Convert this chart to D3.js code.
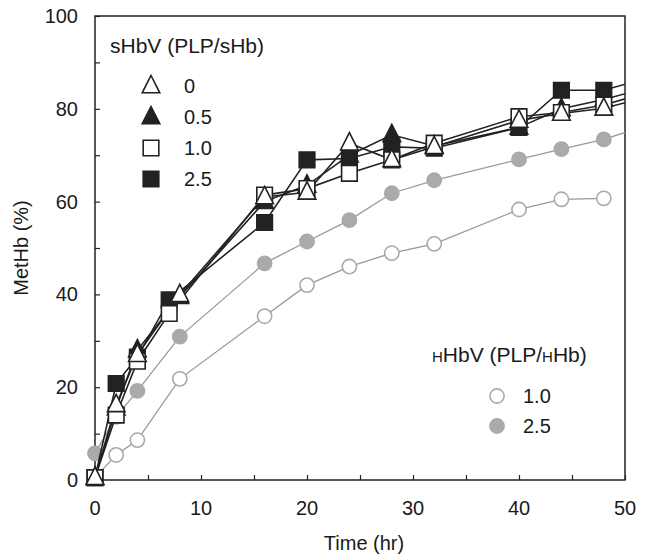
<!DOCTYPE html>
<html>
<head>
<meta charset="utf-8">
<script src="https://cdn.jsdelivr.net/npm/d3@7"></script>
<style>
  body { margin: 0; background: #fff; }
  svg text { font-family: "Liberation Sans", Arial, sans-serif; fill: #1a1a1a; }
</style>
</head>
<body>
<svg id="chart" width="647" height="554"></svg>
<script>
// sampling times (hr); square series were taken at ~7 hr instead of 8
const timeTri = [0, 2, 4, 8, 16, 20, 24, 28, 32, 40, 44, 48, 52];
const timeSq = [0, 2, 4, 7, 16, 20, 24, 28, 32, 40, 44, 48, 52];
const timeH = [0, 2, 4, 8, 16, 20, 24, 28, 32, 40, 44, 48];
const timeH25 = [0, 2, 4, 8, 16, 20, 24, 28, 32, 40, 44, 48, 52];

// MetHb (%) — sHbV, PLP/sHb ratios
const sHbV0 = [0.5, 16.2, 27, 39.9, 61, 62, 72.6, 69, 71.8, 77.5, 79, 80.1, 82.5];
const sHbV05 = [0.5, 15.5, 28, 39.5, 60, 63.5, 70, 74.4, 72, 76, 80, 82, 84.5];
const sHbV10 = [0.5, 14, 25.6, 35.9, 61.4, 62.8, 66.1, 69, 72.6, 78.3, 79.2, 80.8, 83.5];
const sHbV25 = [0.5, 20.8, 26.5, 38.8, 55.5, 69, 69.3, 71.8, 71.5, 76, 84, 84, 86.6];

// MetHb (%) — hHbV, PLP/hHb ratios
const hHbV10 = [0.5, 5.4, 8.6, 21.8, 35.3, 42, 46, 48.9, 50.9, 58.3, 60.5, 60.7];
const hHbV25 = [5.75, 13.6, 19.2, 30.9, 46.7, 51.4, 56, 61.8, 64.6, 69.1, 71.3, 73.4, 76.4];

const xTicks = [0, 10, 20, 30, 40, 50];
const yTicks = [0, 20, 40, 60, 80, 100];

const svg = d3.select("#chart");
const margin = { left: 95, right: 22, top: 16, bottom: 74 };
const W = 647, H = 554;
const fs = 20;

const x = d3.scaleLinear().domain([0, 50]).range([margin.left, W - margin.right]);
const y = d3.scaleLinear().domain([0, 100]).range([H - margin.bottom, margin.top]);

svg.append("clipPath").attr("id", "plotclip")
  .append("rect")
  .attr("x", x(0)).attr("y", y(100))
  .attr("width", x(50) - x(0)).attr("height", y(0) - y(100));

// axes: inward ticks, no domain path (frame drawn separately)
const xAxis = svg.append("g").attr("transform", `translate(0,${y(0)})`)
  .call(d3.axisBottom(x).tickValues(d3.range(0, 51, 5)).tickSizeInner(-5).tickSizeOuter(0).tickFormat(""));
const yAxis = svg.append("g").attr("transform", `translate(${x(0)},0)`)
  .call(d3.axisLeft(y).tickValues(d3.range(0, 101, 10)).tickSizeInner(-5).tickSizeOuter(0).tickFormat(""));
[xAxis, yAxis].forEach(g => {
  g.select(".domain").remove();
  g.selectAll("line").attr("stroke", "#222").attr("stroke-width", 1.2);
});

svg.selectAll(".xlab").data(xTicks).enter().append("text")
  .attr("x", d => x(d)).attr("y", y(0) + 35)
  .attr("text-anchor", "middle").attr("font-size", fs)
  .text(d => d);
svg.selectAll(".ylab").data(yTicks).enter().append("text")
  .attr("x", x(0) - 17).attr("y", d => y(d) + 7)
  .attr("text-anchor", "end").attr("font-size", fs)
  .text(d => d);

svg.append("text").attr("x", (x(0) + x(50)) / 2 + 4).attr("y", 550)
  .attr("text-anchor", "middle").attr("font-size", fs).text("Time (hr)");
svg.append("text")
  .attr("transform", `translate(28,${(y(0) + y(100)) / 2}) rotate(-90)`)
  .attr("text-anchor", "middle").attr("font-size", fs).text("MetHb (%)");

// frame
svg.append("rect")
  .attr("x", x(0)).attr("y", y(100))
  .attr("width", x(50) - x(0)).attr("height", y(0) - y(100))
  .attr("fill", "none").attr("stroke", "#222").attr("stroke-width", 1.5);

const line = d3.line().x(d => x(d.t)).y(d => y(d.v));
const pts = (ts, vs) => vs.map((v, i) => ({ t: ts[i], v }));

const hSeries = [
  { data: pts(timeH, hHbV10), shape: "circle", fill: "#fff", stroke: "#aaa" },
  { data: pts(timeH25, hHbV25), shape: "circle", fill: "#aaa", stroke: "#aaa" }
];
const sSeries = [
  { data: pts(timeSq, sHbV25), shape: "square", fill: "#222", stroke: "#222" },
  { data: pts(timeTri, sHbV05), shape: "triangle", fill: "#222", stroke: "#222" },
  { data: pts(timeSq, sHbV10), shape: "square", fill: "#fff", stroke: "#222" },
  { data: pts(timeTri, sHbV0), shape: "triangle", fill: "#fff", stroke: "#222" }
];

const symbolPath = {
  circle: d3.symbol(d3.symbolCircle, 160)(),
  square: "M-7.8,-7.8H7.8V7.8H-7.8Z",
  triangle: "M0,-10.5L8.8,6.8H-8.8Z"
};

function drawMarkers(g, s) {
  g.selectAll(null).data(s.data.filter(d => d.t <= 50)).enter().append("path")
    .attr("d", symbolPath[s.shape])
    .attr("transform", d => `translate(${x(d.t)},${y(d.v)})`)
    .attr("fill", s.fill).attr("stroke", s.stroke)
    .attr("stroke-width", 1.6);
}

const hG = svg.append("g");
hSeries.forEach(s => {
  hG.append("path").datum(s.data).attr("d", line)
    .attr("clip-path", "url(#plotclip)")
    .attr("fill", "none").attr("stroke", "#999").attr("stroke-width", 1.3);
});
hSeries.forEach(s => drawMarkers(hG, s));

const sG = svg.append("g");
sSeries.forEach(s => {
  sG.append("path").datum(s.data).attr("d", line)
    .attr("clip-path", "url(#plotclip)")
    .attr("fill", "none").attr("stroke", "#222").attr("stroke-width", 1.6);
});
sSeries.forEach(s => drawMarkers(sG, s));

// legend: sHbV
const sLegend = [
  { label: "0", shape: "triangle", fill: "#fff" },
  { label: "0.5", shape: "triangle", fill: "#222" },
  { label: "1.0", shape: "square", fill: "#fff" },
  { label: "2.5", shape: "square", fill: "#222" }
];
svg.append("text").attr("x", 110).attr("y", 53).attr("font-size", 21).text("sHbV (PLP/sHb)");
const sl = svg.selectAll(".sleg").data(sLegend).enter().append("g")
  .attr("transform", (d, i) => `translate(151,${86 + i * 31})`);
sl.append("path").attr("d", d => symbolPath[d.shape])
  .attr("fill", d => d.fill).attr("stroke", "#222").attr("stroke-width", 1.6);
sl.append("text").attr("x", 33).attr("y", 7).attr("font-size", fs).text(d => d.label);

// legend: hHbV (small-capital h)
const hLegend = [
  { label: "1.0", fill: "#fff" },
  { label: "2.5", fill: "#aaa" }
];
const ht = svg.append("text").attr("x", 432).attr("y", 362).attr("font-size", 21);
ht.append("tspan").attr("font-size", 15).text("H");
ht.append("tspan").text("HbV (PLP/");
ht.append("tspan").attr("font-size", 15).text("H");
ht.append("tspan").text("Hb)");
const hl = svg.selectAll(".hleg").data(hLegend).enter().append("g")
  .attr("transform", (d, i) => `translate(497,${396 + i * 30})`);
hl.append("path").attr("d", symbolPath.circle)
  .attr("fill", d => d.fill).attr("stroke", "#aaa").attr("stroke-width", 1.6);
hl.append("text").attr("x", 26).attr("y", 7).attr("font-size", fs).text(d => d.label);
</script>
</body>
</html>
